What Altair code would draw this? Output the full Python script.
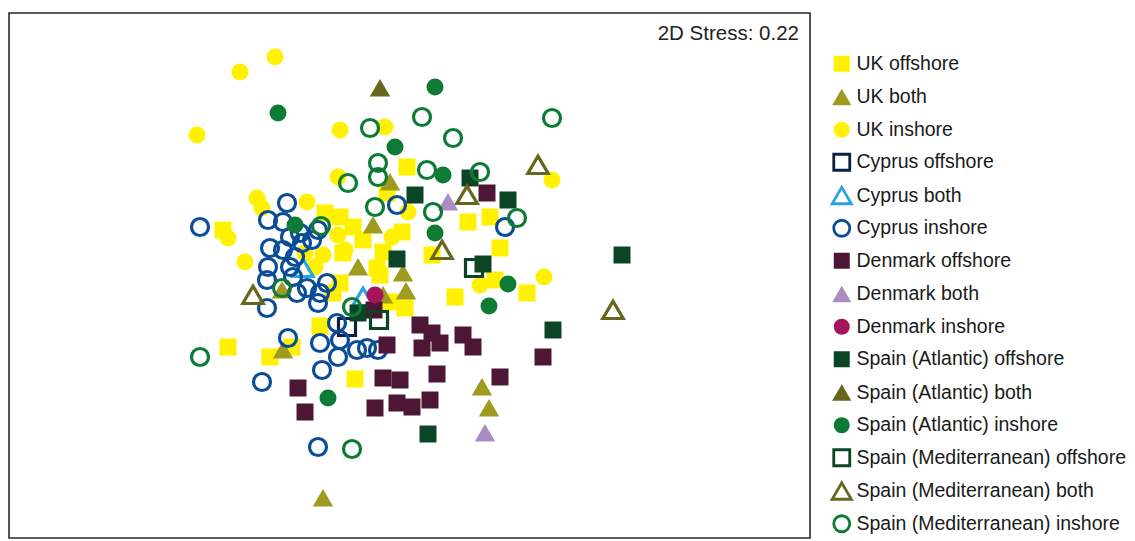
import altair as alt
import pandas as pd

# Ordination scores (MDS1, MDS2) for each sample group
uk_offshore = [(223, 230), (228, 347), (270, 357), (292, 347), (320, 326), (355, 379), (407, 167),
               (325, 213), (340, 217), (353, 227), (343, 253), (377, 268), (402, 232), (468, 222),
               (490, 217), (500, 248), (432, 255), (455, 297), (495, 280), (527, 293), (405, 308),
               (340, 283), (380, 275), (383, 252), (333, 293), (390, 302), (387, 193), (363, 240)]
uk_both = [(390, 182), (373, 225), (358, 267), (403, 273), (406, 291), (383, 295), (282, 290),
           (283, 350), (482, 387), (489, 408), (323, 498)]
uk_inshore = [(240, 72), (275, 57), (197, 135), (340, 130), (385, 127), (338, 177), (257, 198),
              (262, 208), (228, 238), (245, 262), (307, 202), (305, 253), (323, 255), (315, 267),
              (338, 235), (345, 250), (392, 237), (408, 212), (552, 180), (544, 277), (480, 285)]
cyprus_offshore = [(347, 327)]
cyprus_both = [(303, 268), (363, 297)]
cyprus_inshore = [(200, 227), (287, 203), (268, 220), (283, 222), (300, 233), (290, 237), (318, 230),
                  (270, 248), (283, 250), (302, 243), (312, 240), (295, 257), (268, 267), (290, 267),
                  (267, 280), (293, 277), (327, 283), (307, 288), (297, 293), (320, 293), (267, 308),
                  (318, 303), (288, 338), (320, 343), (340, 340), (337, 323), (357, 350), (338, 357),
                  (322, 370), (367, 348), (378, 350), (262, 382), (318, 447), (397, 205), (505, 227)]
denmark_offshore = [(487, 193), (374, 310), (387, 345), (420, 325), (432, 333), (422, 348), (440, 343),
                    (463, 335), (473, 347), (543, 357), (437, 374), (500, 377), (383, 378), (400, 380),
                    (375, 408), (397, 403), (412, 407), (430, 400), (298, 388), (305, 412)]
denmark_both = [(448, 202), (485, 433)]
denmark_inshore = [(375, 295)]
spain_atl_offshore = [(415, 195), (470, 178), (508, 200), (622, 255), (483, 264), (397, 259),
                      (553, 330), (428, 434), (358, 313)]
spain_atl_both = [(380, 88)]
spain_atl_inshore = [(278, 113), (435, 87), (395, 147), (443, 175), (435, 233), (508, 284),
                     (489, 306), (328, 398), (295, 225)]
spain_med_offshore = [(474, 268), (379, 320)]
spain_med_both = [(538, 165), (467, 195), (442, 250), (253, 295), (613, 310)]
spain_med_inshore = [(370, 128), (422, 117), (453, 138), (552, 118), (378, 163), (378, 177),
                     (348, 183), (427, 170), (480, 172), (375, 207), (433, 212), (517, 218),
                     (321, 226), (282, 288), (352, 307), (200, 357), (352, 449)]

groups = ["UK offshore", "UK both", "UK inshore",
          "Cyprus offshore", "Cyprus both", "Cyprus inshore",
          "Denmark offshore", "Denmark both", "Denmark inshore",
          "Spain (Atlantic) offshore", "Spain (Atlantic) both", "Spain (Atlantic) inshore",
          "Spain (Mediterranean) offshore", "Spain (Mediterranean) both", "Spain (Mediterranean) inshore"]
group_scores = [uk_offshore, uk_both, uk_inshore,
                cyprus_offshore, cyprus_both, cyprus_inshore,
                denmark_offshore, denmark_both, denmark_inshore,
                spain_atl_offshore, spain_atl_both, spain_atl_inshore,
                spain_med_offshore, spain_med_both, spain_med_inshore]

NONE = "transparent"
fill_colors = ["#FFF100", "#9E9B1F", "#FFF100",
               NONE, NONE, NONE,
               "#4D1634", "#A98DC2", "#A6155C",
               "#0B4526", "#66661C", "#0D7A36",
               NONE, NONE, NONE]
stroke_colors = [NONE, NONE, NONE,
                 "#0D2240", "#2AA6DF", "#0A4C98",
                 NONE, NONE, NONE,
                 NONE, NONE, NONE,
                 "#0B4526", "#66661C", "#0D7A36"]
TRI = "M0,-1.05L1.2,1L-1.2,1Z"
shapes = ["square", TRI, "circle"] * 5

rows = []
for name, pts in zip(groups, group_scores):
    for mx, my in pts:
        rows.append({"group": name, "MDS1": mx, "MDS2": my})
df = pd.DataFrame(rows)

legend = alt.Legend(title=None, orient="none", legendX=823, legendY=41)

points = alt.Chart(df).mark_point(opacity=1, size=289, strokeWidth=3.2).encode(
    x=alt.X("MDS1:Q", scale=alt.Scale(domain=[9, 810], nice=False, zero=False), axis=None),
    y=alt.Y("MDS2:Q", scale=alt.Scale(domain=[13, 538], nice=False, zero=False, reverse=True), axis=None),
    fill=alt.Fill("group:N", scale=alt.Scale(domain=groups, range=fill_colors), legend=legend),
    stroke=alt.Stroke("group:N", scale=alt.Scale(domain=groups, range=stroke_colors), legend=legend),
    shape=alt.Shape("group:N", scale=alt.Scale(domain=groups, range=shapes), legend=legend),
)

stress = alt.Chart(pd.DataFrame({"t": ["2D Stress: 0.22"]})).mark_text(
    align="right", baseline="alphabetic", fontSize=20.5, font="Liberation Sans", color="#222222"
).encode(text="t:N", x=alt.value(790), y=alt.value(27))

chart = alt.layer(points, stress).properties(
    width=801, height=525,
    padding={"left": 9, "top": 13, "right": 325, "bottom": 3},
    autosize=alt.AutoSizeParams(type="none"),
).configure_view(
    stroke="#2a2a2a", strokeWidth=1.6
).configure_legend(
    labelFont="Liberation Sans", labelFontSize=19.5, labelColor="#1a1a1a", labelLimit=400,
    symbolSize=256, symbolStrokeWidth=2.8, rowPadding=4.5, padding=0, labelOffset=5,
    symbolOpacity=1
)

chart.save("out.html", embed_options={"renderer": "svg", "actions": False})
